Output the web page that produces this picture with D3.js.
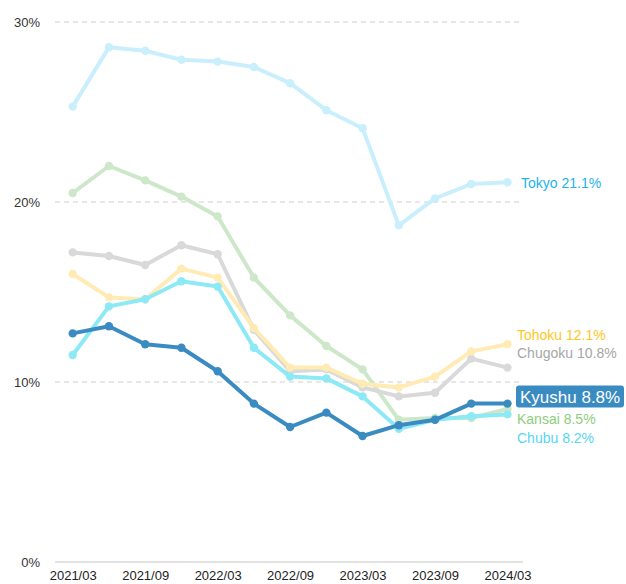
<!DOCTYPE html>
<html><head><meta charset="utf-8">
<script src="https://cdn.jsdelivr.net/npm/d3@7"></script>
<style>body{margin:0;background:#fff}svg{display:block;font-family:"Liberation Sans",Arial,sans-serif}</style>
</head><body><svg id="c" width="626" height="584"></svg>
<script>
const periods = ["2021/03","2021/06","2021/09","2021/12","2022/03","2022/06","2022/09","2022/12","2023/03","2023/06","2023/09","2023/12","2024/03"];
const tickLabels = ["2021/03","2021/09","2022/03","2022/09","2023/03","2023/09","2024/03"];
const yTicks = [0,10,20,30];
const tokyo   = [25.3,28.6,28.4,27.9,27.8,27.5,26.6,25.1,24.1,18.7,20.2,21.0,21.1];
const kansai  = [20.5,22.0,21.2,20.3,19.2,15.8,13.7,12.0,10.7,7.9,8.0,8.0,8.5];
const chugoku = [17.2,17.0,16.5,17.6,17.1,12.9,10.6,10.7,9.7,9.2,9.4,11.3,10.8];
const tohoku  = [16.0,14.7,14.6,16.3,15.8,13.0,10.8,10.8,9.9,9.7,10.3,11.7,12.1];
const chubu   = [11.5,14.2,14.6,15.6,15.3,11.9,10.3,10.2,9.2,7.4,7.9,8.1,8.2];
const kyushu  = [12.7,13.1,12.1,11.9,10.6,8.8,7.5,8.3,7.0,7.6,7.9,8.8,8.8];

const series = [
  {name:"Tokyo", values:tokyo, line:"#c9effd", label:"#22b3ee", ly:188, lx:521},
  {name:"Kansai", values:kansai, line:"#cde8c9", label:"#8dcd7d", ly:424, lx:517},
  {name:"Chugoku", values:chugoku, line:"#d9d9d9", label:"#a6a6a6", ly:358, lx:517},
  {name:"Tohoku", values:tohoku, line:"#ffebb3", label:"#ffc626", ly:340, lx:517},
  {name:"Chubu", values:chubu, line:"#8ee9f6", label:"#55d7f2", ly:443, lx:517},
  {name:"Kyushu", values:kyushu, line:"#3a8bc1", label:"#ffffff", ly:402.5, lx:520, box:true}
];

const svg = d3.select("#c");
const x = d3.scalePoint().domain(periods).range([72.7,507.5]);
const y = d3.scaleLinear().domain([0,30]).range([562,22]);

// grid
svg.append("g").selectAll("line").data(yTicks).join("line")
  .attr("x1",55).attr("x2",523)
  .attr("y1",d=>y(d)).attr("y2",d=>y(d))
  .attr("stroke",d=>d===0?"#d9d9d9":"#d0d0d0")
  .attr("stroke-width",d=>d===0?1.5:1.2)
  .attr("stroke-dasharray",d=>d===0?null:"5,4");
svg.append("g").selectAll("text").data(yTicks).join("text")
  .attr("x",40).attr("y",d=>y(d)+5)
  .attr("text-anchor","end").attr("font-size",13).attr("fill","#333")
  .text(d=>d+"%");

// x axis labels
const xAxis = d3.axisBottom(x).tickValues(tickLabels).tickSize(0).tickPadding(0);
const gx = svg.append("g").attr("transform","translate(0,571)").call(xAxis);
gx.select(".domain").remove();
gx.selectAll("text").attr("font-size",13).attr("fill","#222").attr("font-family","Liberation Sans, Arial, sans-serif").attr("dy","0.71em");

const line = d3.line().x((d,i)=>x(periods[i])).y(d=>y(d));
series.forEach(s=>{
  const g = svg.append("g");
  g.append("path").datum(s.values).attr("d",line)
    .attr("fill","none").attr("stroke",s.line).attr("stroke-width",4)
    .attr("stroke-linejoin","round");
  g.selectAll("circle").data(s.values).join("circle")
    .attr("cx",(d,i)=>x(periods[i])).attr("cy",d=>y(d)).attr("r",4.2)
    .attr("fill",s.line);
});

// labels
series.forEach(s=>{
  const last = s.values[s.values.length-1];
  const txt = s.name+" "+last.toFixed(1)+"%";
  if(s.box){
    svg.append("rect").attr("x",516).attr("y",385.5).attr("width",108).attr("height",22)
      .attr("rx",3).attr("fill",s.line);
    svg.append("text").attr("x",s.lx).attr("y",s.ly).attr("font-size",17)
      .attr("fill",s.label).text(txt);
  } else {
    svg.append("text").attr("x",s.lx).attr("y",s.ly).attr("font-size",14)
      .attr("fill",s.label).text(txt);
  }
});
</script></body></html>
